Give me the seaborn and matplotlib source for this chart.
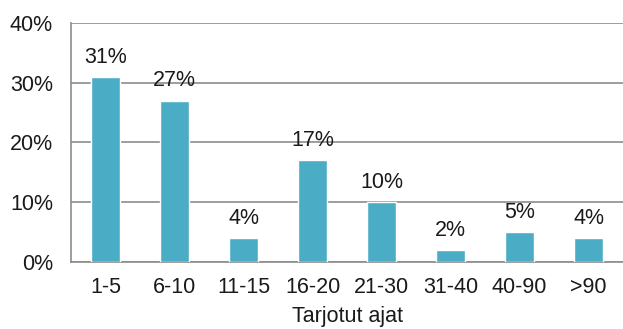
import matplotlib
matplotlib.use("Agg")
import matplotlib.pyplot as plt
import seaborn as sns
import pandas as pd
from matplotlib.ticker import FuncFormatter, MultipleLocator

categories = ["1-5", "6-10", "11-15", "16-20", "21-30", "31-40", "40-90", ">90"]
values = [31, 27, 4, 17, 10, 2, 5, 4]
xlabel = "Tarjotut ajat"

sns.set_theme(style="white")
plt.rcParams['font.family'] = ['Liberation Sans', 'DejaVu Sans']

df = pd.DataFrame({"cat": categories, "val": values})

fig = plt.figure(figsize=(6.23, 3.29), dpi=100)
ax = fig.add_axes([0.114, 0.204, 0.886, 0.726])
sns.barplot(data=df, x="cat", y="val", color="#4BACC6", width=0.41, saturation=1, ax=ax, zorder=3)

grey = "#8c8c8c"
fs = 15.5
ax.set_ylim(0, 40)
ax.set_xlim(-0.5, len(categories) - 0.5)
ax.yaxis.set_major_locator(MultipleLocator(10))
ax.yaxis.set_major_formatter(FuncFormatter(lambda v, p: f"{int(v)}%"))
ax.grid(axis="y", color=grey, linewidth=1.2, zorder=0)
ax.set_axisbelow(True)
for s in ["top", "right"]:
    ax.spines[s].set_visible(False)
for s in ["left", "bottom"]:
    ax.spines[s].set_color(grey)
    ax.spines[s].set_linewidth(1.2)

ax.tick_params(axis="y", which="major", direction="out", length=6, width=1.2,
               colors=grey, labelcolor="#1a1a1a", labelsize=fs, pad=7)
ax.set_xticks(range(len(categories)))
ax.set_xticklabels(categories)
ax.tick_params(axis="x", which="major", length=0, labelsize=fs, pad=11, labelcolor="#1a1a1a")
ax.set_xticks([i + 0.5 for i in range(-1, len(categories))], minor=True)
ax.tick_params(axis="x", which="minor", direction="out", length=5, color=grey, width=1.2)

for i, v in enumerate(values):
    ax.text(i, v + 3.3, f"{v}%", ha="center", va="center", fontsize=fs, color="#1a1a1a")

ax.set_xlabel(xlabel, fontsize=fs, labelpad=6, color="#1a1a1a")
ax.set_ylabel("")

fig.savefig("out.png", dpi=100)
